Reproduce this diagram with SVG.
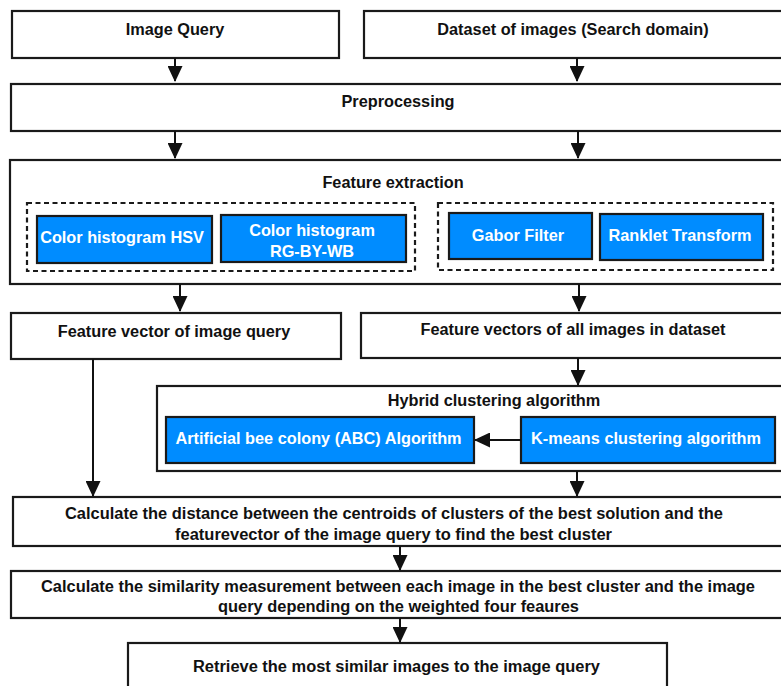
<svg xmlns="http://www.w3.org/2000/svg" width="781" height="686" viewBox="0 0 781 686">
<style>
.box{fill:#fff;stroke:#1a1a1a;stroke-width:2.2}
.blue{fill:#008CFF;stroke:#1a1a1a;stroke-width:2.2}
.dash{fill:none;stroke:#1a1a1a;stroke-width:2.2;stroke-dasharray:5 3.5}
.t{font-family:"Liberation Sans",Arial,sans-serif;font-weight:bold;font-size:16.3px;fill:#111;text-anchor:middle}
.n{font-size:16px}
.w{fill:#fff}
.c{stroke:#111;stroke-width:2;fill:none;marker-end:url(#ah)}
</style>
<defs>
<marker id="ah" viewBox="0 0 16 15" refX="15" refY="7.5" markerWidth="16" markerHeight="15" markerUnits="userSpaceOnUse" orient="auto">
<path d="M0,0 L16,7.5 L0,15 z" fill="#111"/>
</marker>
</defs>
<rect width="781" height="686" fill="#fff"/>
<g id="image-query"><rect class="box" x="12" y="11" width="327" height="47"/><text class="t" x="175" y="35">Image Query</text></g>
<g id="dataset"><rect class="box" x="364" y="11" width="440" height="47"/><text class="t" x="573" y="35">Dataset of images (Search domain)</text></g>
<g id="preprocessing"><rect class="box" x="11" y="84" width="800" height="47"/><text class="t" x="398" y="107">Preprocessing</text></g>
<g id="feature-extraction"><rect class="box" x="10" y="160" width="800" height="124"/><text class="t" x="393" y="188">Feature extraction</text>
<rect class="dash" x="27" y="203" width="388" height="68"/>
<rect class="dash" x="438" y="203" width="335" height="67"/></g>
<g id="hsv"><rect class="blue" x="37" y="216" width="175" height="47"/><text class="t w" x="122" y="243">Color histogram HSV</text></g>
<g id="rgbywb"><rect class="blue" x="221" y="215" width="185" height="47"/><text class="t w" x="312" y="236">Color histogram</text><text class="t w" x="312" y="257">RG-BY-WB</text></g>
<g id="gabor"><rect class="blue" x="449" y="213" width="143" height="46"/><text class="t w" x="518" y="241">Gabor Filter</text></g>
<g id="ranklet"><rect class="blue" x="600" y="214" width="163" height="46"/><text class="t w" x="680" y="241">Ranklet Transform</text></g>
<g id="fv-query"><rect class="box" x="11" y="313" width="330" height="46"/><text class="t" x="174" y="337">Feature vector of image query</text></g>
<g id="fv-all"><rect class="box" x="361" y="313" width="440" height="45"/><text class="t" x="573" y="335">Feature vectors of all images in dataset</text></g>
<g id="hybrid"><rect class="box" x="157" y="386" width="640" height="85"/><text class="t" x="494" y="406">Hybrid clustering algorithm</text></g>
<g id="abc"><rect class="blue" x="166" y="417" width="308" height="46"/><text class="t w" x="318.5" y="444">Artificial bee colony (ABC) Algorithm</text></g>
<g id="kmeans"><rect class="blue" x="521" y="417" width="254" height="46"/><text class="t w" x="646" y="444">K-means clustering algorithm</text></g>
<g id="distance"><rect class="box" x="13" y="497" width="800" height="49"/>
<text class="t n" x="394" y="519" textLength="658" lengthAdjust="spacingAndGlyphs">Calculate the distance between the centroids of clusters of the best solution and the</text>
<text class="t n" x="393.5" y="540" textLength="437" lengthAdjust="spacingAndGlyphs">featurevector of the image query to find the best cluster</text></g>
<g id="similarity"><rect class="box" x="11" y="571" width="800" height="47"/>
<text class="t n" x="398" y="592" textLength="714" lengthAdjust="spacingAndGlyphs">Calculate the similarity measurement between each image in the best cluster and the image</text>
<text class="t n" x="398.5" y="612" textLength="361" lengthAdjust="spacingAndGlyphs">query depending on the weighted four feaures</text></g>
<g id="retrieve"><rect class="box" x="128" y="643" width="539" height="60"/>
<text class="t n" x="396.5" y="672" textLength="407" lengthAdjust="spacingAndGlyphs">Retrieve the most similar images to the image query</text></g>
<g id="connectors">
<line class="c" x1="175" y1="58" x2="175" y2="81"/>
<line class="c" x1="577" y1="58" x2="577" y2="81"/>
<line class="c" x1="175" y1="131" x2="175" y2="158"/>
<line class="c" x1="578" y1="131" x2="578" y2="158"/>
<line class="c" x1="180" y1="284" x2="180" y2="311"/>
<line class="c" x1="579" y1="284" x2="579" y2="311"/>
<line class="c" x1="578" y1="358" x2="578" y2="385"/>
<line class="c" x1="521" y1="440" x2="475" y2="440"/>
<line class="c" x1="93" y1="359" x2="93" y2="496"/>
<line class="c" x1="577" y1="471" x2="577" y2="496"/>
<line class="c" x1="400" y1="546" x2="400" y2="570"/>
<line class="c" x1="400" y1="618" x2="400" y2="642"/>
</g>
</svg>
